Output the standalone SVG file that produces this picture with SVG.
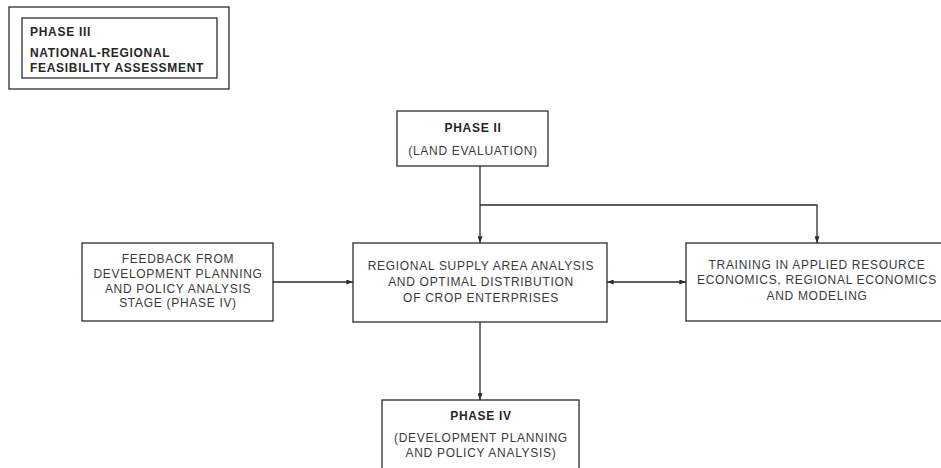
<svg xmlns="http://www.w3.org/2000/svg" width="941" height="468" viewBox="0 0 941 468">
  <style>
    .box { fill: #ffffff; stroke: #2b2b2b; stroke-width: 1.3; }
    .wire { fill: none; stroke: #2b2b2b; stroke-width: 1.3; }
    text { font-family: "Liberation Sans", Arial, sans-serif; font-size: 12px; letter-spacing: 0.7px; fill: #3a3a3a; }
    .c { text-anchor: middle; }
    .b { font-weight: bold; fill: #262626; }
  </style>
  <defs>
    <marker id="arrow" viewBox="0 0 8 6" refX="8" refY="3" markerWidth="7" markerHeight="5" markerUnits="userSpaceOnUse" orient="auto-start-reverse">
      <path d="M0,0 L8,3 L0,6 Z" fill="#2b2b2b"/>
    </marker>
  </defs>
  <rect width="941" height="468" fill="#ffffff"/>

  <!-- Phase III title block -->
  <g id="phase3">
    <rect class="box" x="9" y="7" width="220" height="82"/>
    <rect class="box" x="22" y="18" width="195" height="60"/>
    <text class="b" x="30" y="36">PHASE III</text>
    <text class="b" x="30" y="57">NATIONAL-REGIONAL</text>
    <text class="b" x="30" y="72" letter-spacing="0.55">FEASIBILITY ASSESSMENT</text>
  </g>

  <g id="phase2">
    <rect class="box" x="397" y="111" width="151" height="55"/>
    <text class="c b" x="473" y="132">PHASE II</text>
    <text class="c" x="473" y="155">(LAND EVALUATION)</text>
  </g>

  <g id="feedback">
    <rect class="box" x="82" y="243" width="191" height="78"/>
    <text class="c" x="178" y="263">FEEDBACK FROM</text>
    <text class="c" x="178" y="278">DEVELOPMENT PLANNING</text>
    <text class="c" x="178" y="293">AND POLICY ANALYSIS</text>
    <text class="c" x="178" y="307">STAGE (PHASE IV)</text>
  </g>

  <g id="supply">
    <rect class="box" x="353" y="243" width="254" height="79"/>
    <text class="c" x="481" y="270">REGIONAL SUPPLY AREA ANALYSIS</text>
    <text class="c" x="481" y="286">AND OPTIMAL DISTRIBUTION</text>
    <text class="c" x="481" y="302">OF CROP ENTERPRISES</text>
  </g>

  <g id="training">
    <rect class="box" x="686" y="243" width="264" height="78"/>
    <text class="c" x="817" y="269">TRAINING IN APPLIED RESOURCE</text>
    <text class="c" x="817" y="284">ECONOMICS, REGIONAL ECONOMICS</text>
    <text class="c" x="817" y="300">AND MODELING</text>
  </g>

  <g id="phase4">
    <rect class="box" x="382" y="400" width="197" height="80"/>
    <text class="c b" x="481" y="420">PHASE IV</text>
    <text class="c" x="481" y="442">(DEVELOPMENT PLANNING</text>
    <text class="c" x="481" y="457">AND POLICY ANALYSIS)</text>
  </g>

  <g id="connectors">
    <path class="wire" d="M480,166 V243" marker-end="url(#arrow)"/>
    <path class="wire" d="M480,205 H817 V243" marker-end="url(#arrow)"/>
    <path class="wire" d="M273,282 H353" marker-end="url(#arrow)"/>
    <path class="wire" d="M607,282 H686" marker-start="url(#arrow)" marker-end="url(#arrow)"/>
    <path class="wire" d="M480,322 V400" marker-end="url(#arrow)"/>
  </g>
</svg>
